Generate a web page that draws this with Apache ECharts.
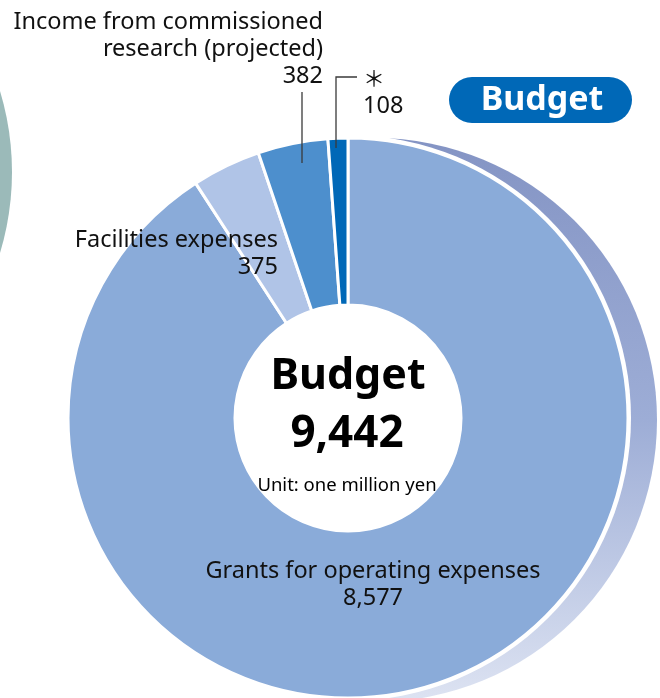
<!DOCTYPE html>
<html>
<head>
<meta charset="utf-8">
<script src="https://cdn.jsdelivr.net/npm/echarts@6/dist/echarts.min.js"></script>
<style>
  html, body { margin: 0; padding: 0; background: #fff; }
  #chart { width: 660px; height: 698px; }
</style>
</head>
<body>
<div id="chart"></div>
<script>
// budget breakdown (unit: one million yen)
const names = ['Grants for operating expenses', 'Facilities expenses', 'Income from commissioned\nresearch (projected)', '＊'];
const values = [8577, 375, 382, 108];
const colors = ['#8aabd9', '#b0c4e7', '#4d8fcd', '#0068b7'];
const total = 9442;
const centerTitle = 'Budget';
const unitText = 'Unit: one million yen';

// label anchor: x, y (top of text), align
const labelPos = [
  [373, 558, 'center'],
  [278, 227, 'right'],
  [323, 9, 'right'],
  [363, 64, 'left']
];

const font = '"Noto Sans", sans-serif';
const cjkFont = '"Noto Sans CJK JP", "Noto Sans", sans-serif';

const chart = echarts.init(document.getElementById('chart'));
const option = {
  animation: false,
  graphic: [
    // part of neighbouring chart at the left edge
    { type: 'circle', z: -10, shape: { cx: -267, cy: 172, r: 279 }, style: { fill: '#9bbab9' } },
    // shadow ring behind the donut
    {
      type: 'circle', z: -10, shape: { cx: 375, cy: 420, r: 282 },
      style: {
        fill: new echarts.graphic.LinearGradient(0, 0, 0, 1, [
          { offset: 0, color: '#8494c4' },
          { offset: 0.5, color: '#9dadd6' },
          { offset: 1, color: '#dde3f2' }
        ])
      }
    },
    { type: 'circle', z: -9, shape: { cx: 348, cy: 418, r: 283 }, style: { fill: '#fff' } },
    // leader lines
    { type: 'polyline', z: 50, shape: { points: [[302, 92], [302, 163]] }, style: { stroke: '#3a3a3a', lineWidth: 1.3, fill: null } },
    { type: 'polyline', z: 50, shape: { points: [[336, 148], [336, 77], [357, 77]] }, style: { stroke: '#3a3a3a', lineWidth: 1.3, fill: null } },
    // badge
    { type: 'rect', z: 50, shape: { x: 449, y: 77, width: 183, height: 46, r: 23 }, style: { fill: '#0068b7' } },
    {
      type: 'text', z: 51, x: 542, y: 100,
      style: { text: centerTitle, fill: '#fff', font: 'bold 34px ' + font, align: 'center', verticalAlign: 'middle' }
    },
    // centre text
    {
      type: 'text', z: 51, x: 348, y: 377,
      style: { text: centerTitle, fill: '#000', font: 'bold 43px ' + font, align: 'center', verticalAlign: 'middle' }
    },
    {
      type: 'text', z: 51, x: 347, y: 434,
      style: { text: total.toLocaleString('en-US'), fill: '#000', font: 'bold 44px ' + font, align: 'center', verticalAlign: 'middle' }
    },
    {
      type: 'text', z: 51, x: 347, y: 486,
      style: { text: unitText, fill: '#000', font: '18.5px ' + font, align: 'center', verticalAlign: 'middle' }
    }
  ],
  series: [
    {
      type: 'pie',
      center: [348, 418],
      radius: [113, 280],
      startAngle: 90,
      clockwise: true,
      silent: true,
      itemStyle: { borderColor: '#fff', borderWidth: 3 },
      label: {
        show: true,
        color: '#111',
        fontFamily: font,
        fontSize: 23.5,
        lineHeight: 27,
        overflow: 'none',
        formatter: function (p) {
          if (p.dataIndex === 3) {
            return '{mark|' + p.name + '}\n{num|' + p.value.toLocaleString('en-US') + '}';
          }
          return p.name + '\n' + p.value.toLocaleString('en-US');
        },
        rich: {
          mark: { fontFamily: cjkFont, fontSize: 22, lineHeight: 28, color: '#111' },
          num: { fontFamily: font, fontSize: 23.5, lineHeight: 28, color: '#111' }
        }
      },
      labelLine: { show: false },
      labelLayout: function (params) {
        const p = labelPos[params.dataIndex];
        return { x: p[0], y: p[1], align: p[2], verticalAlign: 'top' };
      },
      data: names.map((n, i) => ({ name: n, value: values[i], itemStyle: { color: colors[i] } }))
    }
  ]
};
chart.setOption(option);
</script>
</body>
</html>
